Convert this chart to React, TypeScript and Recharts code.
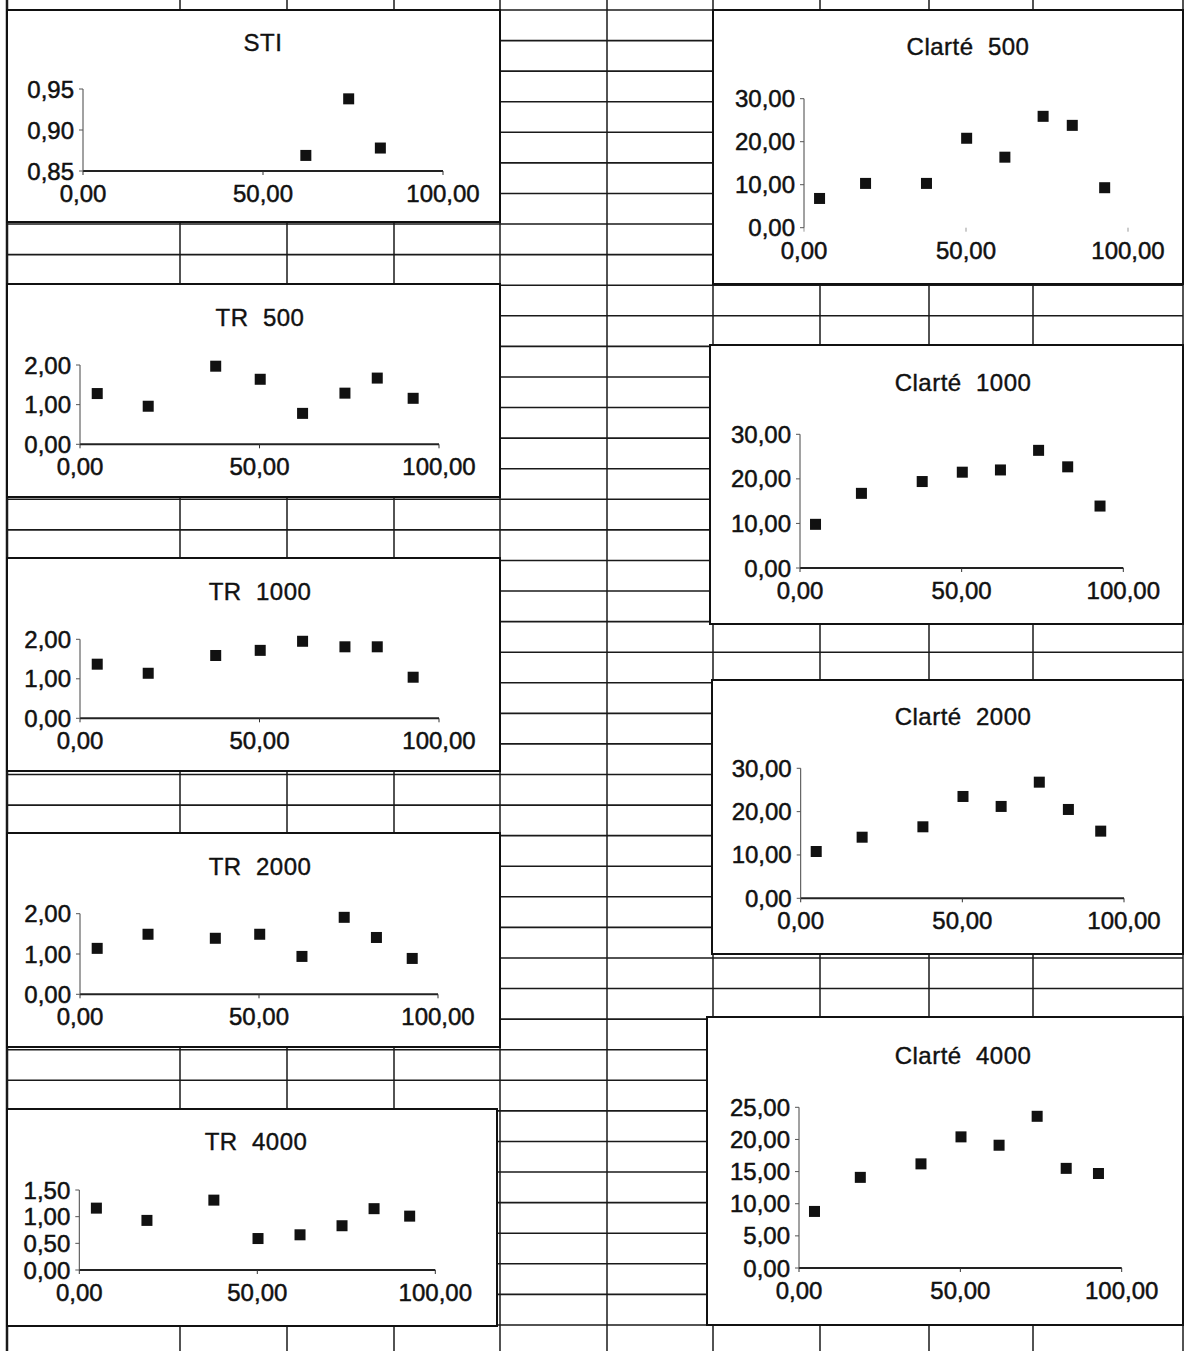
import React from 'react';
import { ScatterChart, Scatter, XAxis, YAxis } from 'recharts';

// ---- data ----
const xValues = [4.8, 19.0, 37.8, 50.2, 62.0, 73.8, 82.8, 92.8];
const stiX = [61.9, 73.8, 82.6];
const stiY = [0.869, 0.938, 0.878];
const tr500 = [1.28, 0.96, 1.97, 1.64, 0.78, 1.29, 1.67, 1.16];
const tr1000 = [1.37, 1.14, 1.59, 1.72, 1.95, 1.81, 1.81, 1.04];
const tr2000 = [1.14, 1.49, 1.39, 1.49, 0.94, 1.91, 1.41, 0.89];
const tr4000 = [1.16, 0.93, 1.31, 0.59, 0.66, 0.83, 1.15, 1.01];
const clarte500 = [6.8, 10.3, 10.3, 20.8, 16.4, 25.9, 23.8, 9.3];
const clarte1000 = [9.8, 16.75, 19.4, 21.5, 22.0, 26.4, 22.7, 13.9];
const clarte2000 = [10.8, 14.1, 16.5, 23.5, 21.2, 26.8, 20.5, 15.5];
const clarte4000 = [8.8, 14.1, 16.2, 20.4, 19.1, 23.6, 15.5, 14.7];

const xTicks = [0, 50, 100];
const stiTicks = [0.85, 0.9, 0.95];
const trTicks = [0, 1, 2];
const tr4000Ticks = [0, 0.5, 1, 1.5];
const clarteTicks = [0, 10, 20, 30];
const clarte4000Ticks = [0, 5, 10, 15, 20, 25];

const zip = (xs: number[], ys: number[]) => xs.map((x, i) => ({ x, y: ys[i] }));
const fmt = (v: number) => v.toFixed(2).replace('.', ',');

// ---- layout ----
const FONT = '"Liberation Sans", Arial, sans-serif';
const rowYs = Array.from({ length: 44 }, (_, k) => 10 + k * 30.58);
const colXs = [7, 180, 287, 394, 500, 607, 713, 820, 929, 1033, 1183];

type Cfg = {
  title: string;
  box: [number, number, number, number];
  plot: [number, number, number, number]; // left, right, top, bottom
  titleAt: [number, number];
  data: { x: number; y: number }[];
  yDomain: [number, number];
  yTicks: number[];
  hideXLine?: boolean;
};

const charts: Cfg[] = [
  { title: 'STI', box: [7, 10, 493, 212], plot: [83, 443, 89, 171], titleAt: [263, 43], data: zip(stiX, stiY), yDomain: [0.85, 0.95], yTicks: stiTicks },
  { title: 'Clarté  500', box: [713, 10, 470, 274], plot: [804, 1128, 98.7, 227.7], titleAt: [968, 47], data: zip(xValues, clarte500), yDomain: [0, 30], yTicks: clarteTicks, hideXLine: true },
  { title: 'TR  500', box: [7, 284, 493, 213], plot: [80, 439, 365, 444.3], titleAt: [260, 318], data: zip(xValues, tr500), yDomain: [0, 2], yTicks: trTicks },
  { title: 'TR  1000', box: [7, 558, 493, 213], plot: [80, 439, 639.3, 718.3], titleAt: [260, 592], data: zip(xValues, tr1000), yDomain: [0, 2], yTicks: trTicks },
  { title: 'TR  2000', box: [7, 833, 493, 214], plot: [80, 438, 913.7, 994.3], titleAt: [260, 867], data: zip(xValues, tr2000), yDomain: [0, 2], yTicks: trTicks },
  { title: 'TR  4000', box: [7, 1109, 490, 217], plot: [79.3, 435.3, 1190, 1270], titleAt: [256, 1142], data: zip(xValues, tr4000), yDomain: [0, 1.5], yTicks: tr4000Ticks },
  { title: 'Clarté  1000', box: [710, 345, 473, 279], plot: [800, 1123.3, 434.3, 568], titleAt: [963, 383], data: zip(xValues, clarte1000), yDomain: [0, 30], yTicks: clarteTicks },
  { title: 'Clarté  2000', box: [712, 680, 471, 274], plot: [800.7, 1124, 768.3, 898.3], titleAt: [963, 717], data: zip(xValues, clarte2000), yDomain: [0, 30], yTicks: clarteTicks },
  { title: 'Clarté  4000', box: [707, 1017, 476, 308], plot: [799, 1121.7, 1107.3, 1268], titleAt: [963, 1056], data: zip(xValues, clarte4000), yDomain: [0, 25], yTicks: clarte4000Ticks },
];

const SquareDot = (props: any) => {
  const { cx, cy } = props;
  if (cx == null || cy == null) return null;
  return <rect x={cx - 5.5} y={cy - 5.5} width={11} height={11} fill="#111" />;
};

const tickStyle = { fontSize: 24, fill: '#111', stroke: '#111', strokeWidth: 0.5, fontFamily: FONT };

function Chart({ c }: { c: Cfg }) {
  const [bx, by, bw, bh] = c.box;
  const [pl, pr, pt, pb] = c.plot;
  const X_H = 40;
  const yW = pl - bx;
  const margin = { top: pt - by, right: bx + bw - pr, bottom: by + bh - pb - X_H, left: 0 };
  return (
    <>
      <div
        style={{
          position: 'absolute', left: bx, top: by, width: bw, height: bh,
          background: '#fff', outline: '2px solid #111', outlineOffset: -1,
        }}
      >
        <ScatterChart width={bw} height={bh} margin={margin}>
          <XAxis
            type="number" dataKey="x" domain={[0, 100]} ticks={xTicks} interval={0}
            tickFormatter={fmt} height={X_H} tickSize={4} tickMargin={10}
            tick={tickStyle}
            axisLine={c.hideXLine ? false : { stroke: '#222', strokeWidth: 2 }}
            tickLine={{ stroke: c.hideXLine ? '#999' : '#333' }}
          />
          <YAxis
            type="number" dataKey="y" domain={c.yDomain} ticks={c.yTicks} interval={0}
            tickFormatter={fmt} width={yW} tickSize={4} tickMargin={5}
            tick={tickStyle}
            axisLine={{ stroke: '#444', strokeWidth: 1 }}
            tickLine={{ stroke: '#555' }}
          />
          <Scatter data={c.data} shape={SquareDot} isAnimationActive={false} />
        </ScatterChart>
      </div>
      <div
        style={{
          position: 'absolute', left: c.titleAt[0] - 150, top: c.titleAt[1] - 15, width: 300,
          textAlign: 'center', fontFamily: FONT, fontSize: 24, lineHeight: '30px', color: '#111',
          whiteSpace: 'pre', letterSpacing: 0.5, WebkitTextStroke: '0.4px #111',
        }}
      >
        {c.title}
      </div>
    </>
  );
}

export default function App() {
  return (
    <div style={{ position: 'absolute', left: 0, top: 0, width: 1187, height: 1351, background: '#fff', overflow: 'hidden' }}>
      <svg width={1187} height={1351} style={{ position: 'absolute', left: 0, top: 0 }}>
        {rowYs.map((y, i) => (
          <line key={'h' + i} x1={7} x2={1183} y1={y} y2={y} stroke="#1a1a1a" strokeWidth={1.6} />
        ))}
        {colXs.map((x, i) => (
          <line key={'v' + i} x1={x} x2={x} y1={0} y2={1351} stroke="#1a1a1a" strokeWidth={i === 0 ? 2.5 : 1.5} />
        ))}
      </svg>
      {charts.map((c) => (
        <Chart key={c.title} c={c} />
      ))}
    </div>
  );
}
